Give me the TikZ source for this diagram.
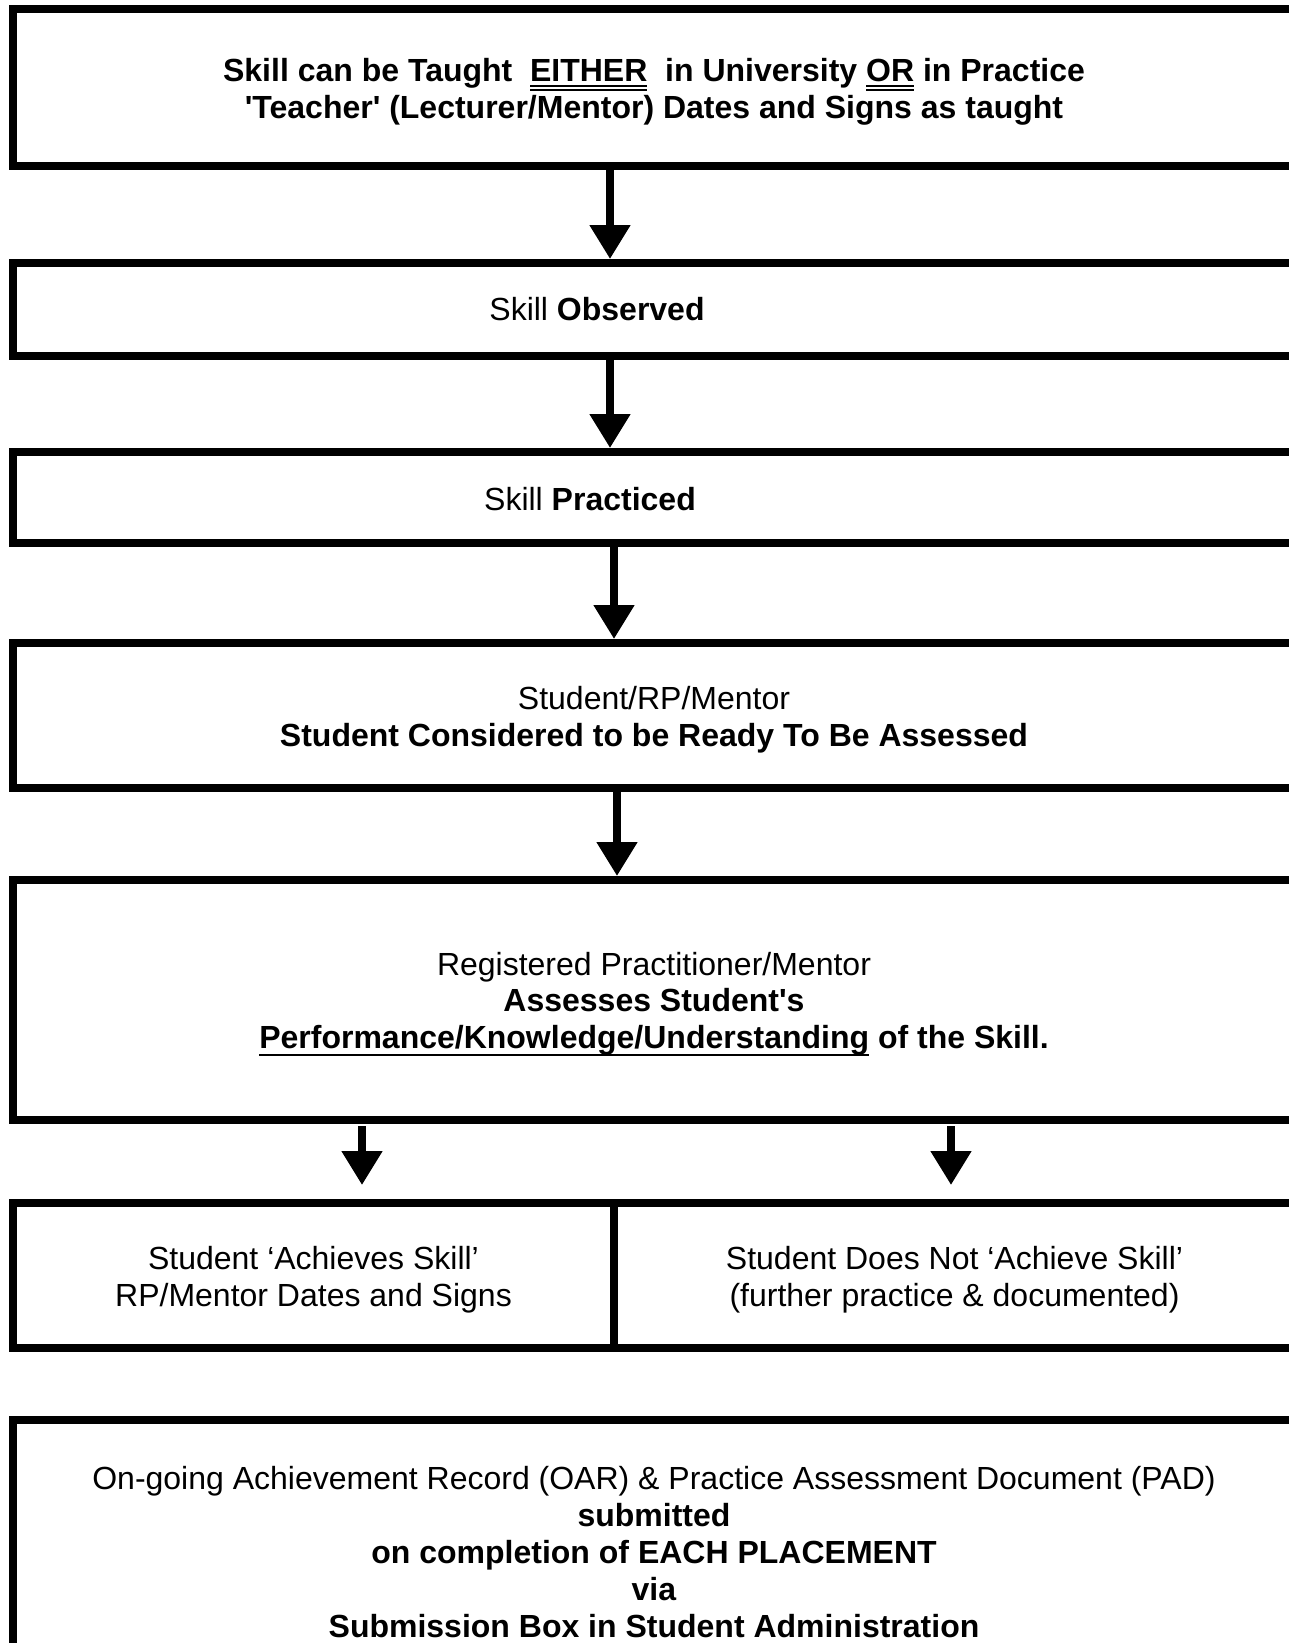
\documentclass[tikz,border=0pt]{standalone}
\usepackage{fontspec}
\setmainfont{Liberation Sans}
\usetikzlibrary{arrows.meta}
\newcommand{\ulsingle}[1]{\setbox0\hbox{#1}\rlap{\rule[-3.6pt]{\wd0}{1pt}}\box0\relax}
\newcommand{\uldouble}[1]{\setbox0\hbox{#1}\rlap{\rule[-2.65pt]{\wd0}{0.8pt}}\rlap{\rule[-4.65pt]{\wd0}{0.8pt}}\box0\relax}
\newcommand{\topgap}{\rule{0pt}{15.5pt}}

\begin{document}
\begin{tikzpicture}[
    x=0.5pt, y=-0.5pt,
    font=\fontsize{16pt}{18.4pt}\selectfont,
    box/.style={rectangle, draw=black, line width=4pt, minimum width=641pt, align=center, inner sep=0pt},
    arrow/.style={-{Triangle[width=19.5pt, length=17pt]}, line width=4pt, draw=black}
]
    \useasboundingbox (0,0) rectangle (1289,1643);
    \clip (0,0) rectangle (1289,1643);

    \node (taught) [box, minimum height=78.5pt] at (654,87.5) {\topgap\textbf{Skill can be Taught \ \uldouble{EITHER} \ in University \uldouble{OR} in Practice}\\\textbf{\textquotesingle Teacher\textquotesingle\ (Lecturer/Mentor) Dates and Signs as taught}};
    \node (observed) [box, minimum height=46.5pt] at (654,309.5) {Skill \textbf{Observed}\hspace*{57pt}};
    \node (practiced) [box, minimum height=45.5pt] at (654,497.5) {\rule{0pt}{13.5pt}Skill \textbf{Practiced}\hspace*{64pt}};
    \node (ready) [box, minimum height=72.5pt] at (654,715.5) {\topgap Student/RP/Mentor\\\textbf{Student Considered to be Ready To Be Assessed}};
    \node (assess) [box, minimum height=120pt] at (654,1000) {\topgap Registered Practitioner/Mentor\\\textbf{Assesses Student\textquotesingle s}\\\textbf{\ulsingle{Performance/Knowledge/Understanding} of the Skill.}};
    \node (achieves) [box, minimum width=300.5pt, minimum height=72.5pt] at (313.5,1275.5) {\topgap Student ‘Achieves Skill’\\RP/Mentor Dates and Signs};
    \node (notachieve) [box, minimum width=340.5pt, minimum height=72.5pt] at (954.5,1275.5) {\topgap Student Does Not ‘Achieve Skill’\\(further practice \& documented)};
    \node (submit) [box, minimum height=132pt] at (654,1552) {On-going Achievement Record (OAR) \& Practice Assessment Document (PAD)\\\textbf{submitted}\\\textbf{on completion of EACH PLACEMENT}\\\textbf{via}\\\textbf{Submission Box in Student Administration}};

    \draw [arrow] ([xshift=-22pt]taught.south) -- ([xshift=-22pt]observed.north);
    \draw [arrow] ([xshift=-22pt]observed.south) -- ([xshift=-22pt]practiced.north);
    \draw [arrow] ([xshift=-20pt]practiced.south) -- ([xshift=-20pt]ready.north);
    \draw [arrow] ([xshift=-18.5pt]ready.south) -- ([xshift=-18.5pt]assess.north);
    \draw [arrow, shorten <=1pt, shorten >=7pt] ([xshift=-146pt]assess.south) -- ([xshift=-146pt]assess.south |- achieves.north);
    \draw [arrow, shorten <=1pt, shorten >=7pt] ([xshift=148.5pt]assess.south) -- ([xshift=148.5pt]assess.south |- notachieve.north);
\end{tikzpicture}
\end{document}
